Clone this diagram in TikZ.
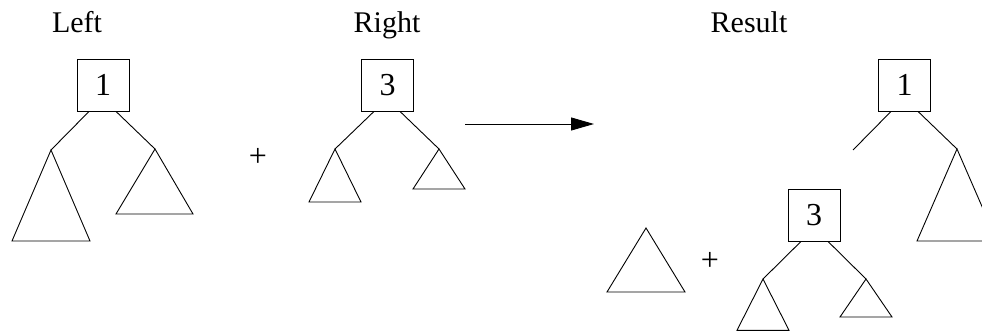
\documentclass[tikz,border=0pt]{standalone}
\usepackage{fontspec}
\setmainfont{Liberation Serif}
\usetikzlibrary{calc,arrows.meta}
\begin{document}
\begin{tikzpicture}[x=1pt,y=-1pt,
  lw/.style={line width=0.9pt},
  keybox/.style={draw,lw,minimum width=52pt,minimum height=52pt,inner sep=0pt,font=\fontsize{32}{32}\selectfont},
  lbl/.style={font=\fontsize{30}{30}\selectfont,inner sep=0pt,anchor=base},
  plus/.style={font=\fontsize{32}{32}\selectfont,inner sep=0pt},
  tri/.style={draw,lw,line join=miter}]
\useasboundingbox (0,0) rectangle (982,331);
\clip (0,0) rectangle (982,331);

% labels
\node[lbl] (tl) at (77,33) {Left};
\node[lbl] (tr) at (387,33) {Right};
\node[lbl] (tres) at (749,33) {Result};

% ---- Left tree
\node[keybox] (b1) at (103,85) {1};
\coordinate (l1) at (51,150);
\coordinate (r1) at (155,149);
\draw[lw] ($(b1.south)+(-14,0)$) -- (l1);
\draw[lw] ($(b1.south)+(13,0)$) -- (r1);
\draw[tri] (l1) -- (12,241) -- (90,241) -- cycle;
\draw[tri] (r1) -- (116,214) -- (193,214) -- cycle;

\node[plus] (p1) at (258,157) {+};

% ---- Right tree
\node[keybox] (b3) at (387.5,85) {3};
\coordinate (l3) at (335,149);
\coordinate (r3) at (439,149);
\draw[lw] ($(b3.south)+(-13.5,0)$) -- (l3);
\draw[lw] ($(b3.south)+(12.5,0)$) -- (r3);
\draw[tri] (l3) -- (309,202) -- (361,202) -- cycle;
\draw[tri] (r3) -- (413,189) -- (465,189) -- cycle;

% ---- arrow
\coordinate (a0) at (465,124);
\coordinate (a1) at (594,124);
\draw[lw,-{Triangle[length=23pt,width=13pt]}] (a0) -- (a1);

% ---- Result
\node[keybox] (b1r) at (904.5,85) {1};
\coordinate (l1r) at (853,150);
\coordinate (r1r) at (957,149);
\draw[lw] ($(b1r.south)+(-13.5,0)$) -- (l1r);
\draw[lw] ($(b1r.south)+(13.5,0)$) -- (r1r);
\draw[tri] (r1r) -- (917,241) -- (997,241) -- cycle;

\coordinate (lone) at (646,228);
\draw[tri] (lone) -- (607,292) -- (685,292) -- cycle;
\node[plus] (p2) at (710,261) {+};

\node[keybox] (b3r) at (814,215) {3};
\coordinate (l3r) at (763,279);
\coordinate (r3r) at (866,279);
\draw[lw] ($(b3r.south)+(-13,0)$) -- (l3r);
\draw[lw] ($(b3r.south)+(14,0)$) -- (r3r);
\draw[tri] (l3r) -- (737,330.3) -- (789,330.3) -- cycle;
\draw[tri] (r3r) -- (840,317) -- (892,317) -- cycle;
\end{tikzpicture}
\end{document}
